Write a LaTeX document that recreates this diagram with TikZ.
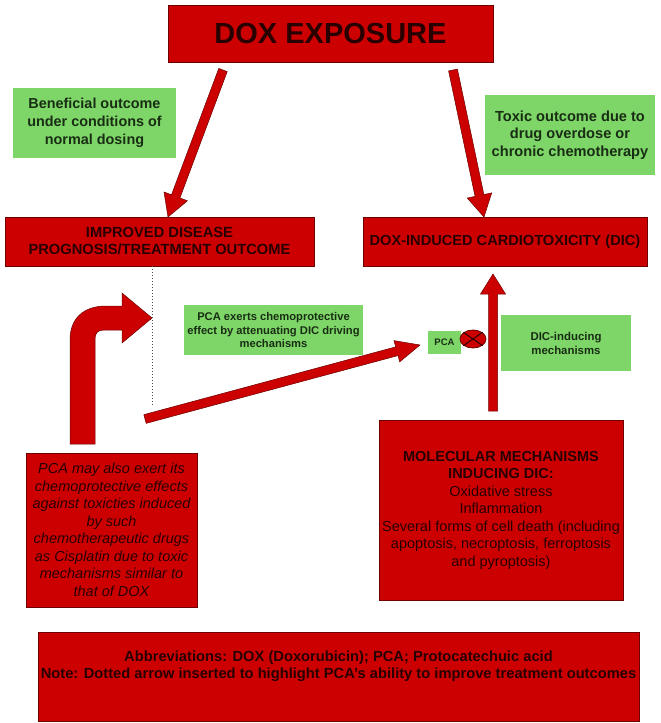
\documentclass[tikz,border=0pt]{standalone}
\usepackage{fontspec}
\setmainfont{Liberation Sans}
\usetikzlibrary{calc,shapes.geometric}
\definecolor{boxred}{RGB}{204,0,0}
\definecolor{edgered}{RGB}{110,0,0}
\definecolor{boxgreen}{RGB}{126,214,104}
\definecolor{greentext}{RGB}{25,45,20}
\definecolor{redtext}{RGB}{40,0,0}
\newcommand{\myfs}[2]{\fontsize{#1pt}{#2pt}\selectfont}
\newcommand{\fatarr}[5]{%
  \coordinate (faH) at ($(#2)!#5!(#1)$);
  \path[arrowfill] ($(#1)!#3!90:(#2)$) -- ($(faH)!#3!90:(#2)$) -- ($(faH)!#4!90:(#2)$) -- (#2)
    -- ($(faH)!#4!-90:(#2)$) -- ($(faH)!#3!-90:(#2)$) -- ($(#1)!#3!-90:(#2)$) -- cycle;}
\tikzset{
  redbox/.style={draw=edgered, line width=0.6pt, fill=boxred, inner sep=0pt, align=center, text=redtext},
  greenbox/.style={fill=boxgreen, inner sep=0pt, align=center, text=greentext},
  arrowfill/.style={fill=boxred, draw=edgered, line width=0.5pt},
  dotline/.style={dotted, line width=1pt, draw=black!70},
}
\begin{document}
\begin{tikzpicture}[x=1pt,y=-1pt]
\useasboundingbox[fill=white] (0,0) rectangle (661,723);

% boxes
\node[redbox, minimum width=325pt, minimum height=57pt, font=\myfs{29}{32}\bfseries] (dox) at (330.5,33.5) {DOX EXPOSURE};
\node[greenbox, minimum width=163pt, minimum height=70pt, font=\myfs{14.4}{18}\bfseries] (ben) at (94.5,123) {Beneficial outcome\\under conditions of\\normal dosing};
\node[greenbox, minimum width=170pt, minimum height=80pt, font=\myfs{14.6}{17.5}\bfseries] (tox) at (570,135) {Toxic outcome due to\\drug overdose or\\chronic chemotherapy};
\node[redbox, minimum width=309pt, minimum height=49pt, font=\myfs{14.7}{17}\bfseries] (imp) at (159.5,241.5) {IMPROVED DISEASE\\PROGNOSIS/TREATMENT OUTCOME};
\node[redbox, minimum width=284pt, minimum height=49pt, font=\myfs{14.6}{17}\bfseries] (dic) at (505,241.5) {DOX-INDUCED CARDIOTOXICITY (DIC)};
\node[greenbox, minimum width=179pt, minimum height=50pt, font=\myfs{11.2}{13.5}\bfseries] (mid) at (273.5,330) {PCA exerts chemoprotective\\effect by attenuating DIC driving\\mechanisms};
\node[greenbox, minimum width=33pt, minimum height=23pt, font=\myfs{9.5}{11}\bfseries] (pca) at (444.5,342.5) {PCA};
\node[greenbox, minimum width=130pt, minimum height=56pt, font=\myfs{11.4}{14}\bfseries] (dicind) at (566,343) {DIC-inducing\\mechanisms};
\node[redbox, minimum width=171pt, minimum height=154pt, font=\myfs{14.5}{17.5}\itshape] (may) at (111.5,530) {PCA may also exert its\\chemoprotective effects\\against toxicties induced\\by such\\chemotherapeutic drugs\\as Cisplatin due to toxic\\mechanisms similar to\\that of DOX};
\node[redbox, minimum width=244pt, minimum height=180pt, font=\myfs{14.5}{17.5}] (mol) at (501,510) {\textbf{MOLECULAR MECHANISMS}\\\textbf{INDUCING DIC:}\\Oxidative stress\\Inflammation\\Several forms of cell death (including\\apoptosis, necroptosis, ferroptosis\\and pyroptosis)};
\node[redbox, minimum width=601pt, minimum height=89pt] (abbr) at (338.5,676.5) {};
\node[align=center, text=redtext, inner sep=0pt, font=\myfs{14.7}{17}\bfseries] (abbrtxt) at (338.5,666) {Abbreviations: DOX (Doxorubicin); PCA; Protocatechuic acid\\Note: Dotted arrow inserted to highlight PCA's ability to improve treatment outcomes};

% inhibition symbol
\node[draw=edgered, fill=boxred, ellipse, minimum width=26pt, minimum height=18pt, inner sep=0pt, line width=0.8pt] (inh) at (473,339) {};
\draw[redtext, line width=1pt] (inh.north west) -- (inh.south east) (inh.north east) -- (inh.south west);

% straight arrows
\coordinate (a1s) at (223,70);  \coordinate (a1e) at (168,217);
\coordinate (a2s) at (453,70);  \coordinate (a2e) at (484,217);
\coordinate (a3s) at (145,419); \coordinate (a3e) at (420,345);
\coordinate (a4s) at (493,411); \coordinate (a4e) at (493,274);
\fatarr{a1s}{a1e}{4.5pt}{12.5pt}{22pt}
\fatarr{a2s}{a2e}{4.5pt}{12.5pt}{22pt}
\fatarr{a3s}{a3e}{4.5pt}{11pt}{24pt}
\fatarr{a4s}{a4e}{4.5pt}{12.5pt}{20pt}

% bent arrow
\path[arrowfill] (70,444) -- (70,340) .. controls (70,318) and (84,306) .. (106,306) -- (122,306) -- (122,293)
  -- (152,318) -- (122,343) -- (122,330) -- (104,330) .. controls (98,330) and (95,333) .. (95,339) -- (95,444) -- cycle;

% dotted line
\coordinate (dotend) at (152,405);
\draw[dotline] (imp.south -| dotend) -- (dotend);
\end{tikzpicture}
\end{document}
